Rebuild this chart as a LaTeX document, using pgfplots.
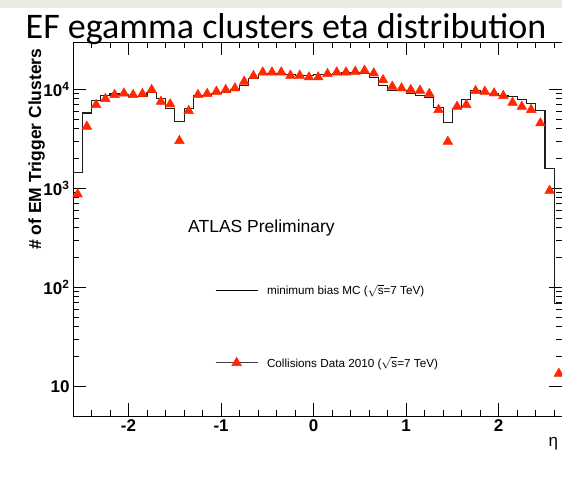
\documentclass[border=0pt]{standalone}
\usepackage{fontspec}
\setmainfont{Liberation Sans}
\newfontfamily\titlefont{Carlito}
\usepackage{pgfplots}
\pgfplotsset{compat=1.18}
\definecolor{datared}{RGB}{255,40,0}
\definecolor{mcline}{RGB}{30,30,30}
\definecolor{bandgray}{RGB}{234,234,228}
\begin{document}
\begin{tikzpicture}
\useasboundingbox (-73pt,-64pt) rectangle (489pt,416pt);
\fill[white] (-73pt,-64pt) rectangle (489pt,416pt);
\fill[bandgray] (-73pt,408pt) rectangle (489pt,416pt);
\node[anchor=base, font=\titlefont\fontsize{36}{36}\selectfont, inner sep=0pt] at (213pt,377pt) {EF egamma clusters eta distribution};
\begin{axis}[
  at={(0pt,0pt)}, anchor=south west,
  scale only axis, width=489pt, height=374pt,
  xmin=-2.6, xmax=2.684, ymode=log, ymin=5, ymax=30000,
  xtick={-2,-1,0,1,2}, xticklabels={-2,-1,0,1,2},
  minor xtick={-2.6,-2.4,-2.2,-1.8,-1.6,-1.4,-1.2,-0.8,-0.6,-0.4,-0.2,0.2,0.4,0.6,0.8,1.2,1.4,1.6,1.8,2.2,2.4,2.6},
  ytick={10,100,1000,10000},
  yticklabels={10,10\textsuperscript{2},10\textsuperscript{3},10\textsuperscript{4}},
  tick pos=both, tick align=inside,
  major tick length=13pt, minor tick length=6.5pt,
  every tick/.style={black, line width=0.8pt},
  axis line style={line width=0.9pt},
  tick label style={font=\fontsize{17}{17}\selectfont\bfseries},
  ylabel={\# of EM Trigger Clusters},
  ylabel style={at={(axis description cs:-0.0654,0.992)}, anchor=base east, font=\fontsize{17.5}{17.5}\selectfont\bfseries},
  xlabel={η},
  xlabel style={at={(axis description cs:1,0)}, anchor=base east, xshift=-0.5pt, yshift=-30pt, font=\fontsize{17}{17}\selectfont},
  legend style={draw=none, fill=none, at={(axis description cs:0.2843,0.2393)}, anchor=west,
    font=\fontsize{11.7}{12}\selectfont, row sep=61pt, column sep=9pt, nodes={inner sep=0pt}},
  legend cell align=left,
]
\addplot[const plot, color=mcline, line width=1.1pt,
  legend image code/.code={\draw[black, line width=0.8pt] (0pt,0pt) -- (42pt,0pt);}] table {
x y
-2.6 1450
-2.5 5750
-2.4 7640
-2.3 8600
-2.2 8950
-2.1 8800
-2.0 8450
-1.9 8450
-1.8 9300
-1.7 8000
-1.6 6450
-1.5 4720
-1.4 6450
-1.3 8600
-1.2 8650
-1.1 9000
-1.0 9300
-0.9 9860
-0.8 10950
-0.7 12700
-0.6 14000
-0.5 14300
-0.4 14300
-0.3 14000
-0.2 13800
-0.1 13700
0.0 14000
0.1 14200
0.2 14500
0.3 14600
0.4 14800
0.5 14500
0.6 13230
0.7 10800
0.8 9630
0.9 9630
1.0 9000
1.1 8580
1.2 8300
1.3 6600
1.4 4640
1.5 6430
1.6 7820
1.7 9630
1.8 9000
1.9 9000
2.0 8580
2.1 8380
2.2 7930
2.3 7220
2.4 6050
2.5 1590
2.6 69
2.7 69
};
\addlegendentry{minimum bias MC ($\sqrt{\mbox{s}}$=7 TeV)}
\addplot[only marks, mark=triangle*, mark size=5.6pt, color=datared,
  legend image code/.code={\draw[black!75, line width=0.8pt] (0pt,0pt) -- (42pt,0pt);
    \draw[only marks, mark=triangle*, mark size=5.6pt, datared] plot coordinates {(21pt,0pt)};}] table {
x y
-2.55 870
-2.45 4200
-2.35 6960
-2.25 8000
-2.15 8780
-2.05 9100
-1.95 8780
-1.85 9000
-1.75 9860
-1.65 7510
-1.55 7060
-1.45 3010
-1.35 6050
-1.25 8780
-1.15 9000
-1.05 9480
-0.95 9860
-0.85 10230
-0.75 11960
-0.65 13650
-0.55 14840
-0.45 14840
-0.35 14840
-0.25 13750
-0.15 13750
-0.05 13230
0.05 13230
0.15 14300
0.25 14840
0.35 14840
0.45 15100
0.55 15450
0.65 14500
0.75 12400
0.85 10650
0.95 10230
1.05 9860
1.15 9700
1.25 9000
1.35 6200
1.45 2960
1.55 6680
1.65 6960
1.75 9630
1.85 9480
1.95 9110
2.05 8580
2.15 7340
2.25 6680
2.35 6200
2.45 4540
2.55 945
2.65 13.4
};
\addlegendentry{Collisions Data 2010 ($\sqrt{\mbox{s}}$=7 TeV)}
\end{axis}
\node[anchor=base west, font=\fontsize{17.5}{17.5}\selectfont, inner sep=0pt] at (115pt,184pt) {ATLAS Preliminary};
\end{tikzpicture}
\end{document}
